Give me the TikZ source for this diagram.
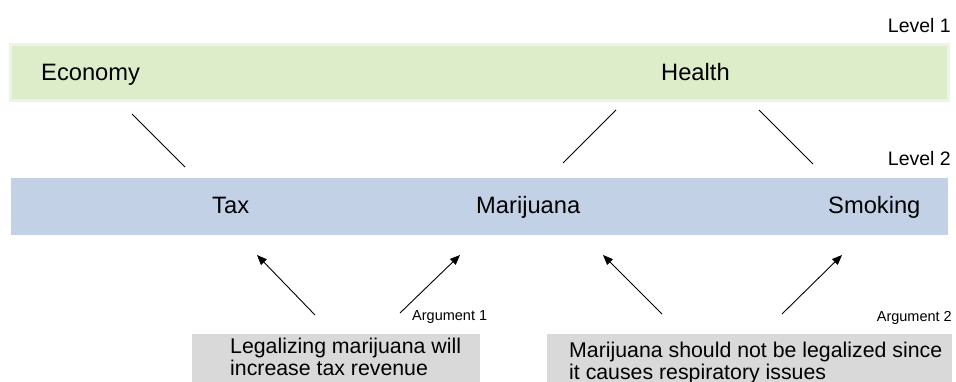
\documentclass[tikz,border=0pt]{standalone}
\usepackage{fontspec}
\setmainfont{Liberation Sans}
\usetikzlibrary{arrows.meta}
\definecolor{levelonefill}{HTML}{DDEDC9}
\definecolor{leveloneedge}{HTML}{EEF3EA}
\definecolor{leveltwofill}{HTML}{C2D1E6}
\definecolor{argfill}{HTML}{D9D9D9}
\tikzset{
  band/.style={rectangle, inner sep=0pt, outer sep=0pt},
  bandlabel/.style={inner sep=0pt, anchor=base west, font=\fontsize{23.7}{28}\selectfont},
  levellabel/.style={inner sep=0pt, anchor=base east, font=\fontsize{19.5}{23}\selectfont},
  arglabel/.style={inner sep=0pt, font=\fontsize{14.5}{17}\selectfont},
  argtext/.style={inner sep=0pt, anchor=north west, align=left, font=\fontsize{21.3}{22}\selectfont},
  link/.style={line width=0.9pt},
  support/.style={line width=0.9pt, -{Triangle[length=10pt,width=8pt]}}
}
\begin{document}
\begin{tikzpicture}[x=1pt,y=-1pt]
\useasboundingbox (0,0) rectangle (956,381);
\clip (0,0) rectangle (956,381);

% level bands
\node[band, fill=levelonefill, draw=leveloneedge, line width=3pt,
      minimum width=937.5pt, minimum height=55.5pt] (bandone) at (479.25,72.25) {};
\node[band, fill=leveltwofill, minimum width=937pt, minimum height=57pt] (bandtwo) at (479.5,206.5) {};

% argument boxes (run past the lower edge)
\node[band, fill=argfill, minimum width=288pt, minimum height=60pt, anchor=north west] (argboxone) at (192,334) {};
\node[band, fill=argfill, minimum width=405pt, minimum height=60pt, anchor=north west] (argboxtwo) at (547,334) {};

% level names
\node[levellabel] (levelone) at (951,32) {Level 1};
\node[levellabel] (leveltwo) at (951,165) {Level 2};

% concepts
\node[bandlabel] (economy) at (41,80) {Economy};
\node[bandlabel] (health) at (661,80) {Health};
\node[bandlabel] (tax) at (212,213) {Tax};
\node[bandlabel] (marijuana) at (476,213) {Marijuana};
\node[bandlabel] (smoking) at (828,213) {Smoking};

% arguments
\node[argtext] (argone) at (230,337.7) {Legalizing marijuana will\\increase tax revenue};
\node[argtext] (argtwo) at (569,341.7) {Marijuana should not be legalized since\\it causes respiratory issues};
\node[arglabel, anchor=base west] (argonelabel) at (412,320) {Argument 1};
\node[arglabel, anchor=base east] (argtwolabel) at (952,321) {Argument 2};

% connector end points
\coordinate (econlow) at (132,114);
\coordinate (taxhigh) at (185,167);
\coordinate (healthleft) at (616,110);
\coordinate (marihigh) at (563,163);
\coordinate (healthright) at (759,110);
\coordinate (smokehigh) at (813,164);

\coordinate (aonetail) at (315,315);
\coordinate (aonetaxtip) at (257,255);
\coordinate (aonemaritail) at (400,313);
\coordinate (aonemaritip) at (460,255);
\coordinate (atwotail) at (662,314);
\coordinate (atwomaritip) at (603,255);
\coordinate (atwosmoketail) at (782,314);
\coordinate (atwosmoketip) at (842,255);

% hierarchy links
\draw[link] (econlow) -- (taxhigh);
\draw[link] (healthleft) -- (marihigh);
\draw[link] (healthright) -- (smokehigh);

% argument supports
\draw[support] (aonetail) -- (aonetaxtip);
\draw[support] (aonemaritail) -- (aonemaritip);
\draw[support] (atwotail) -- (atwomaritip);
\draw[support] (atwosmoketail) -- (atwosmoketip);
\end{tikzpicture}
\end{document}
